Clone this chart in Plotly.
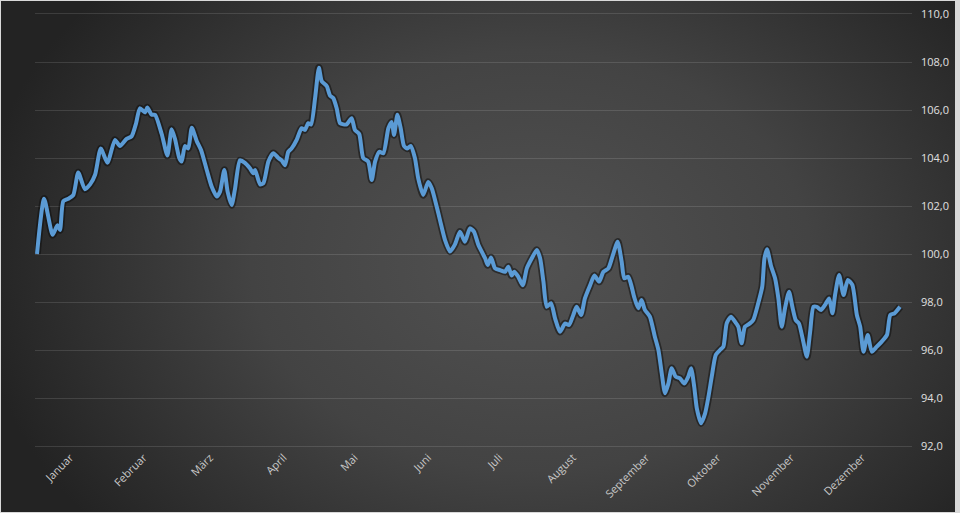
import base64
import plotly.graph_objects as go

# Day of year (0 = 1 January) and index value
days = [0, 3.0, 6.6, 8.6, 9.7, 11.1, 13.2, 15.3, 17.4, 20.2, 22.4, 24.5, 26.9, 29.7, 32.9, 35.0,
        37.8, 39.9, 41.8, 43.4, 45.6, 46.5, 48.4, 49.8, 52.6, 55.0, 56.8, 58.2, 60.0, 61.0, 62.4,
        63.8, 65.3, 67.4, 69.2, 71.6, 73.7, 75.8, 77.2, 79.0, 80.4, 82.1, 83.5, 85.6, 87.7, 89.8,
        91.2, 92.0, 94.1, 95.5, 97.6, 99.7, 101.8, 103.2, 104.6, 106.0, 107.4, 109.5, 111.6, 113.0,
        114.4, 115.6, 117.3, 118.9, 120.1, 122.2, 123.6, 125.0, 126.4, 127.8, 129.2, 130.6, 132.7,
        134.1, 135.9, 137.6, 139.7, 141.2, 142.6, 144.4, 146.1, 148.2, 149.6, 150.6, 152.0, 153.4,
        154.8, 156.2, 157.6, 159.4, 160.8, 162.9, 165.0, 166.5, 168.6, 170.0, 172.1, 174.2, 176.3,
        178.4, 180.5, 182.6, 184.3, 186.1, 189.0, 190.1, 191.5, 193.2, 195.3, 197.4, 198.8, 200.2,
        201.3, 203.0, 204.9, 206.6, 208.7, 210.8, 212.2, 213.6, 215.0, 216.8, 218.5, 220.6, 222.7,
        224.4, 226.2, 227.6, 229.5, 231.1, 233.3, 235.1, 237.1, 238.9, 241.0, 242.7, 244.9, 246.6,
        247.7, 249.4, 250.8, 251.9, 253.6, 255.0, 256.4, 258.5, 260.6, 262.1, 263.5, 264.9, 266.3,
        267.7, 269.4, 271.2, 273.0, 274.7, 275.9, 277.2, 278.3, 280.1, 281.8, 283.2, 284.6, 286.3,
        288.1, 289.5, 290.9, 292.7, 294.4, 295.8, 297.2, 298.6, 300.7, 302.1, 304.2, 305.9, 306.8,
        307.9, 309.6, 311.3, 312.7, 314.1, 315.5, 317.2, 318.6, 320.0, 321.4, 323.2, 324.7, 326.1,
        327.5, 328.9, 330.7, 332.4, 334.1, 335.5, 336.6, 338.3, 340.2, 342.0, 343.9, 345.8, 347.2,
        348.6, 350.4, 352.1, 354.2, 356.3, 358.5, 359.9, 361.7, 364.0]
values = [100.0, 102.3, 100.8, 101.2, 101.0, 102.2, 102.3, 102.45, 103.4, 102.7, 102.9, 103.3,
          104.4, 103.8, 104.75, 104.5, 104.8, 104.9, 105.45, 106.07, 105.9, 106.1, 105.8, 105.8,
          105.0, 104.1, 105.2, 104.8, 104.0, 103.85, 104.5, 104.4, 105.26, 104.7, 104.33, 103.5,
          102.8, 102.4, 102.6, 103.5, 102.6, 102.04, 102.7, 103.9, 103.8, 103.57, 103.36, 103.5,
          102.9, 102.95, 103.85, 104.2, 104.0, 103.9, 103.7, 104.26, 104.4, 104.75, 105.24, 105.17,
          105.45, 105.4, 106.5, 107.76, 107.2, 107.0, 106.6, 106.49, 106.07, 105.45, 105.4, 105.4,
          105.66, 105.17, 105.0, 104.0, 103.85, 103.08, 103.85, 104.26, 104.2, 105.24, 105.5, 104.96,
          105.8, 105.24, 104.5, 104.4, 104.5, 104.0, 103.15, 102.46, 103.0, 102.74, 101.97, 101.4,
          100.58, 100.1, 100.4, 100.93, 100.51, 101.07, 100.93, 100.4, 99.82, 99.54, 99.85, 99.4,
          99.33, 99.26, 99.47, 99.1, 99.26, 99.05, 98.7, 99.4, 99.82, 100.17, 99.82, 98.85, 97.8,
          97.95, 97.32, 96.76, 97.1, 97.04, 97.46, 97.8, 97.46, 98.15, 98.7, 99.1, 98.85, 99.26,
          99.4, 99.89, 100.51, 99.68, 98.99, 99.05, 98.64, 98.2, 97.74, 98.08, 97.67, 97.39, 96.55,
          96.0, 95.03, 94.2, 94.6, 95.24, 94.89, 94.82, 94.6, 94.89, 95.24, 94.47, 93.57, 92.95,
          93.36, 94.05, 94.89, 95.8, 96.0, 96.14, 97.11, 97.39, 97.18, 96.97, 96.28, 96.97, 97.11,
          97.25, 97.95, 98.64, 99.8, 100.2, 99.5, 98.99, 98.15, 96.97, 97.74, 98.43, 97.8, 97.25,
          97.1, 96.35, 95.72, 96.76, 97.8, 97.8, 97.67, 97.88, 98.15, 97.53, 98.29, 99.13, 98.29,
          98.92, 98.71, 97.46, 96.97, 95.93, 96.63, 95.93, 96.14, 96.35, 96.63, 97.46, 97.53, 97.8]

month_labels = ["Januar", "Februar", "März", "April", "Mai", "Juni", "Juli", "August",
                "September", "Oktober", "November", "Dezember"]
month_ticks = [14, 45, 73, 104, 134, 165, 195, 226, 257, 287, 318, 348]
y_ticks = [92, 94, 96, 98, 100, 102, 104, 106, 108, 110]
y_labels = [f"{v:.1f}".replace(".", ",") for v in y_ticks]

W, H = 960, 513
L, R, T, B = 35, 48, 14, 67
pw, ph = W - L - R, H - T - B

svg = (
    "<svg xmlns='http://www.w3.org/2000/svg' width='954' height='511' viewBox='0 0 954 511' preserveAspectRatio='none'>"
    "<defs><radialGradient id='g' gradientUnits='userSpaceOnUse' cx='530' cy='260' r='560' "
    "gradientTransform='translate(530 260) scale(1 0.75) translate(-530 -260)'>"
    "<stop offset='0' stop-color='#525252'/><stop offset='0.5' stop-color='#434343'/>"
    "<stop offset='1' stop-color='#232323'/></radialGradient></defs>"
    "<rect width='954' height='511' fill='url(#g)'/></svg>"
)
src = "data:image/svg+xml;base64," + base64.b64encode(svg.encode()).decode()

grid_col = "rgba(255,255,255,0.12)"

fig = go.Figure()
fig.add_trace(go.Scatter(x=days, y=values, mode="lines",
                         line=dict(color="rgba(15,15,15,0.55)", width=7.5, shape="spline", smoothing=0.6),
                         hoverinfo="skip", showlegend=False))
fig.add_trace(go.Scatter(x=days, y=values, mode="lines",
                         line=dict(color="#5b9bd5", width=4, shape="spline", smoothing=0.6),
                         showlegend=False))

fig.update_layout(
    width=W, height=H,
    margin=dict(l=L, r=R, t=T, b=B, autoexpand=False),
    paper_bgcolor="#d9d9d9",
    plot_bgcolor="rgba(0,0,0,0)",
    images=[dict(source=src, xref="paper", yref="paper",
                 x=(1 - L) / pw, y=1 + (T - 1) / ph, sizex=954 / pw, sizey=511 / ph,
                 xanchor="left", yanchor="top", sizing="stretch", layer="below")],
    font=dict(family="Open Sans, Liberation Sans, sans-serif", color="#d0d0d0", size=11),
    xaxis=dict(range=[-0.84, 369.06], tickmode="array", tickvals=month_ticks, ticktext=month_labels,
               tickangle=-45, showgrid=False, zeroline=False, showline=True, mirror=True,
               linecolor=grid_col, linewidth=1, ticks="", automargin=False,
               tickfont=dict(size=11, color="#c8c8c8")),
    yaxis=dict(range=[92, 110], side="right", tickmode="array", tickvals=y_ticks, ticktext=y_labels,
               showgrid=True, gridcolor=grid_col, gridwidth=1, zeroline=False, automargin=False,
               showline=False, ticks="", ticklabelstandoff=8,
               tickfont=dict(size=11, color="#e0e0e0")),
)

fig.write_html("out.html")
